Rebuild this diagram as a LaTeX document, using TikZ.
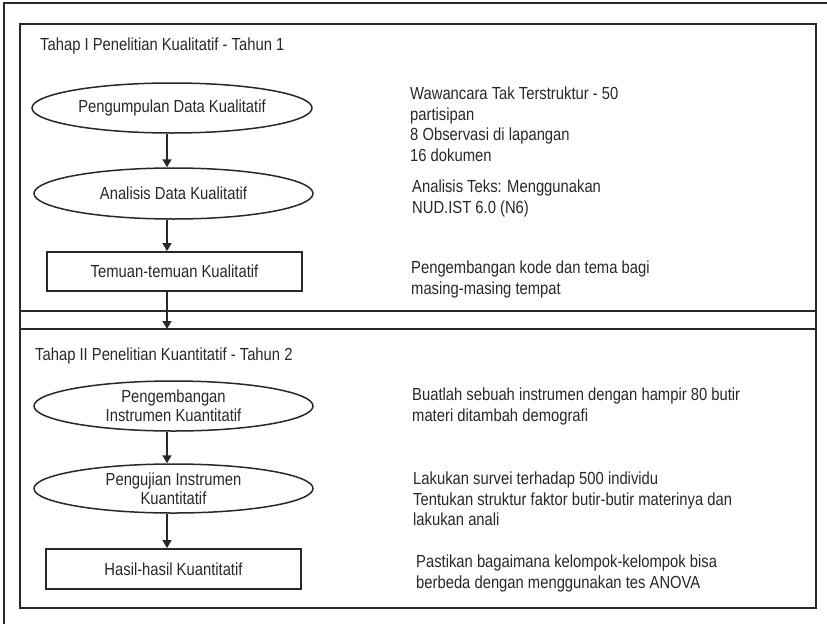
\documentclass[tikz,border=0pt]{standalone}
\usepackage{fontspec}
\setmainfont{Liberation Sans}[FakeStretch=0.845]
\usetikzlibrary{shapes.geometric,arrows.meta}
\definecolor{ink}{RGB}{40,40,40}
\tikzset{
  frame/.style={draw=ink, line width=1.6pt},
  oval/.style={ellipse, draw=ink, line width=1.5pt, inner sep=0pt, align=center,
    font=\fontsize{17.5}{19}\selectfont, text=ink},
  boxnode/.style={rectangle, draw=ink, line width=1.8pt, inner sep=0pt, align=center,
    font=\fontsize{17.5}{19}\selectfont, text=ink},
  note/.style={anchor=north west, inner sep=0pt, align=left, text=ink,
    font=\fontsize{17.5}{20.4}\selectfont},
  heading/.style={anchor=base west, inner sep=0pt, text=ink,
    font=\fontsize{17.5}{20}\selectfont},
  flow/.style={draw=ink, line width=1.5pt, -{Triangle[width=9pt,length=8pt]}}
}
\begin{document}
\begin{tikzpicture}[x=1pt,y=-1pt]
\useasboundingbox (0,0) rectangle (827,624);
% outer frame (only top and left visible)
\draw[frame] (827,3) -- (4,3) -- (4,624);
% inner frame with two stage bands
\draw[frame] (20,24) rectangle (816,608);
\draw[frame] (20,311) -- (816,311);
\draw[frame] (20,329) -- (816,329);
% headings
\node[heading] (h1) at (40,50) {Tahap I Penelitian Kualitatif - Tahun 1};
\node[heading] (h2) at (35,360) {Tahap II Penelitian Kuantitatif - Tahun 2};
% stage 1
\node[oval, minimum width=280pt, minimum height=50pt] (e1) at (172,108) {Pengumpulan Data Kualitatif};
\node[oval, minimum width=279pt, minimum height=51pt] (e2) at (173.5,193.5) {Analisis Data Kualitatif};
\node[boxnode, minimum width=255pt, minimum height=39pt] (r1) at (174.5,271.5) {Temuan-temuan Kualitatif};
% stage 2
\node[oval, minimum width=279pt, minimum height=50pt] (e3) at (173.5,406) {Pengembangan\\Instrumen Kuantitatif};
\node[oval, minimum width=279pt, minimum height=49pt] (e4) at (173.5,488.5) {Pengujian Instrumen\\Kuantitatif};
\node[boxnode, minimum width=255pt, minimum height=40pt] (r2) at (173.5,569) {Hasil-hasil Kuantitatif};
% arrows
\coordinate (ax) at (167,0);
\coordinate (band) at (167,329);
\draw[flow] (e1.south -| ax) -- (e2.north -| ax);
\draw[flow] (e2.south -| ax) -- (r1.north -| ax);
\draw[flow] (r1.south -| ax) -- (band);
\draw[flow] (e3.south -| ax) -- (e4.north -| ax);
\draw[flow] (e4.south -| ax) -- (r2.north -| ax);
% notes
\node[note] (n1) at (410,87) {Wawancara Tak Terstruktur - 50\\partisipan\\8 Observasi di lapangan\\16 dokumen};
\node[note] (n2) at (412,180) {Analisis Teks: Menggunakan\\NUD.IST 6.0 (N6)};
\node[note] (n3) at (411,261) {Pengembangan kode dan tema bagi\\masing-masing tempat};
\node[note] (n4) at (412,388) {Buatlah sebuah instrumen dengan hampir 80 butir\\materi ditambah demografi};
\node[note] (n5) at (413,472) {Lakukan survei terhadap 500 individu\\Tentukan struktur faktor butir-butir materinya dan\\lakukan anali};
\node[note] (n6) at (416,555) {Pastikan bagaimana kelompok-kelompok bisa\\berbeda dengan menggunakan tes ANOVA};
\end{tikzpicture}
\end{document}
